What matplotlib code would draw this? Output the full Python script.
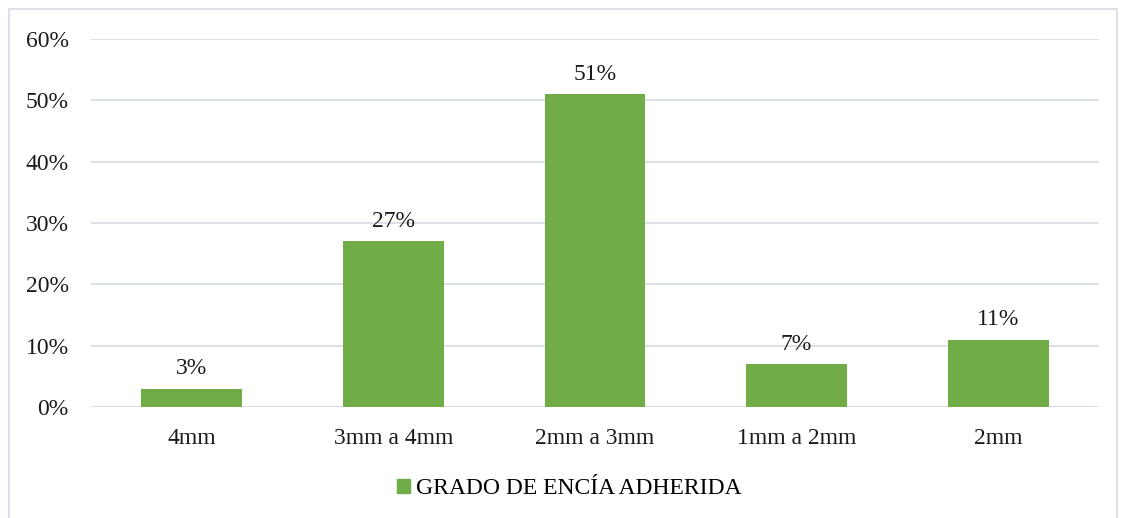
import matplotlib.pyplot as plt
import matplotlib.patches as mpatches
from matplotlib.ticker import FuncFormatter

categorias = ['4mm', '3mm a 4mm', '2mm a 3mm', '1mm a 2mm', '2mm']
valores = [3, 27, 51, 7, 11]
serie = 'GRADO DE ENCÍA ADHERIDA'

plt.rcParams['font.family'] = ['Liberation Serif', 'DejaVu Serif']

fig = plt.figure(figsize=(11.23, 5.18), dpi=100)
ax = fig.add_axes([0.081, 0.2143, 0.8976, 0.7104])

verde = '#70AD47'
x = range(len(categorias))
barras = ax.bar(x, valores, width=0.5, color=verde, label=serie, zorder=3)
for b, v in zip(barras, valores):
    ax.text(b.get_x() + b.get_width() / 2, v + 1.5, '%d%%' % v,
            ha='center', va='bottom', fontsize=17, color='#1a1a1a')

ax.set_xlim(-0.5, len(categorias) - 0.5)
ax.set_ylim(0, 60)
ax.set_yticks(range(0, 61, 10))
ax.yaxis.set_major_formatter(FuncFormatter(lambda v, p: '%d%%' % v))
ax.set_xticks(list(x))
ax.set_xticklabels(categorias)
ax.tick_params(axis='both', length=0, labelsize=17, colors='#1a1a1a')
ax.tick_params(axis='y', pad=16)
ax.tick_params(axis='x', pad=15)
ax.grid(axis='y', color='#D9DEE6', linewidth=1.3, zorder=0)
for s in ax.spines.values():
    s.set_visible(False)

handle = mpatches.Patch(color=verde, label=serie)
fig.legend(handles=[handle], loc='center', bbox_to_anchor=(0.507, 0.057),
           frameon=False, fontsize=17, handlelength=0.55, handleheight=0.55,
           handletextpad=0.25)

# borde del grafico
fig.patches.append(mpatches.Rectangle((9 / 1123, -0.05), 1108 / 1123, 1.05 - 9 / 518,
                                      transform=fig.transFigure, fill=False,
                                      edgecolor='#DCE1E9', linewidth=1.5))

fig.savefig('out.png', dpi=100)
